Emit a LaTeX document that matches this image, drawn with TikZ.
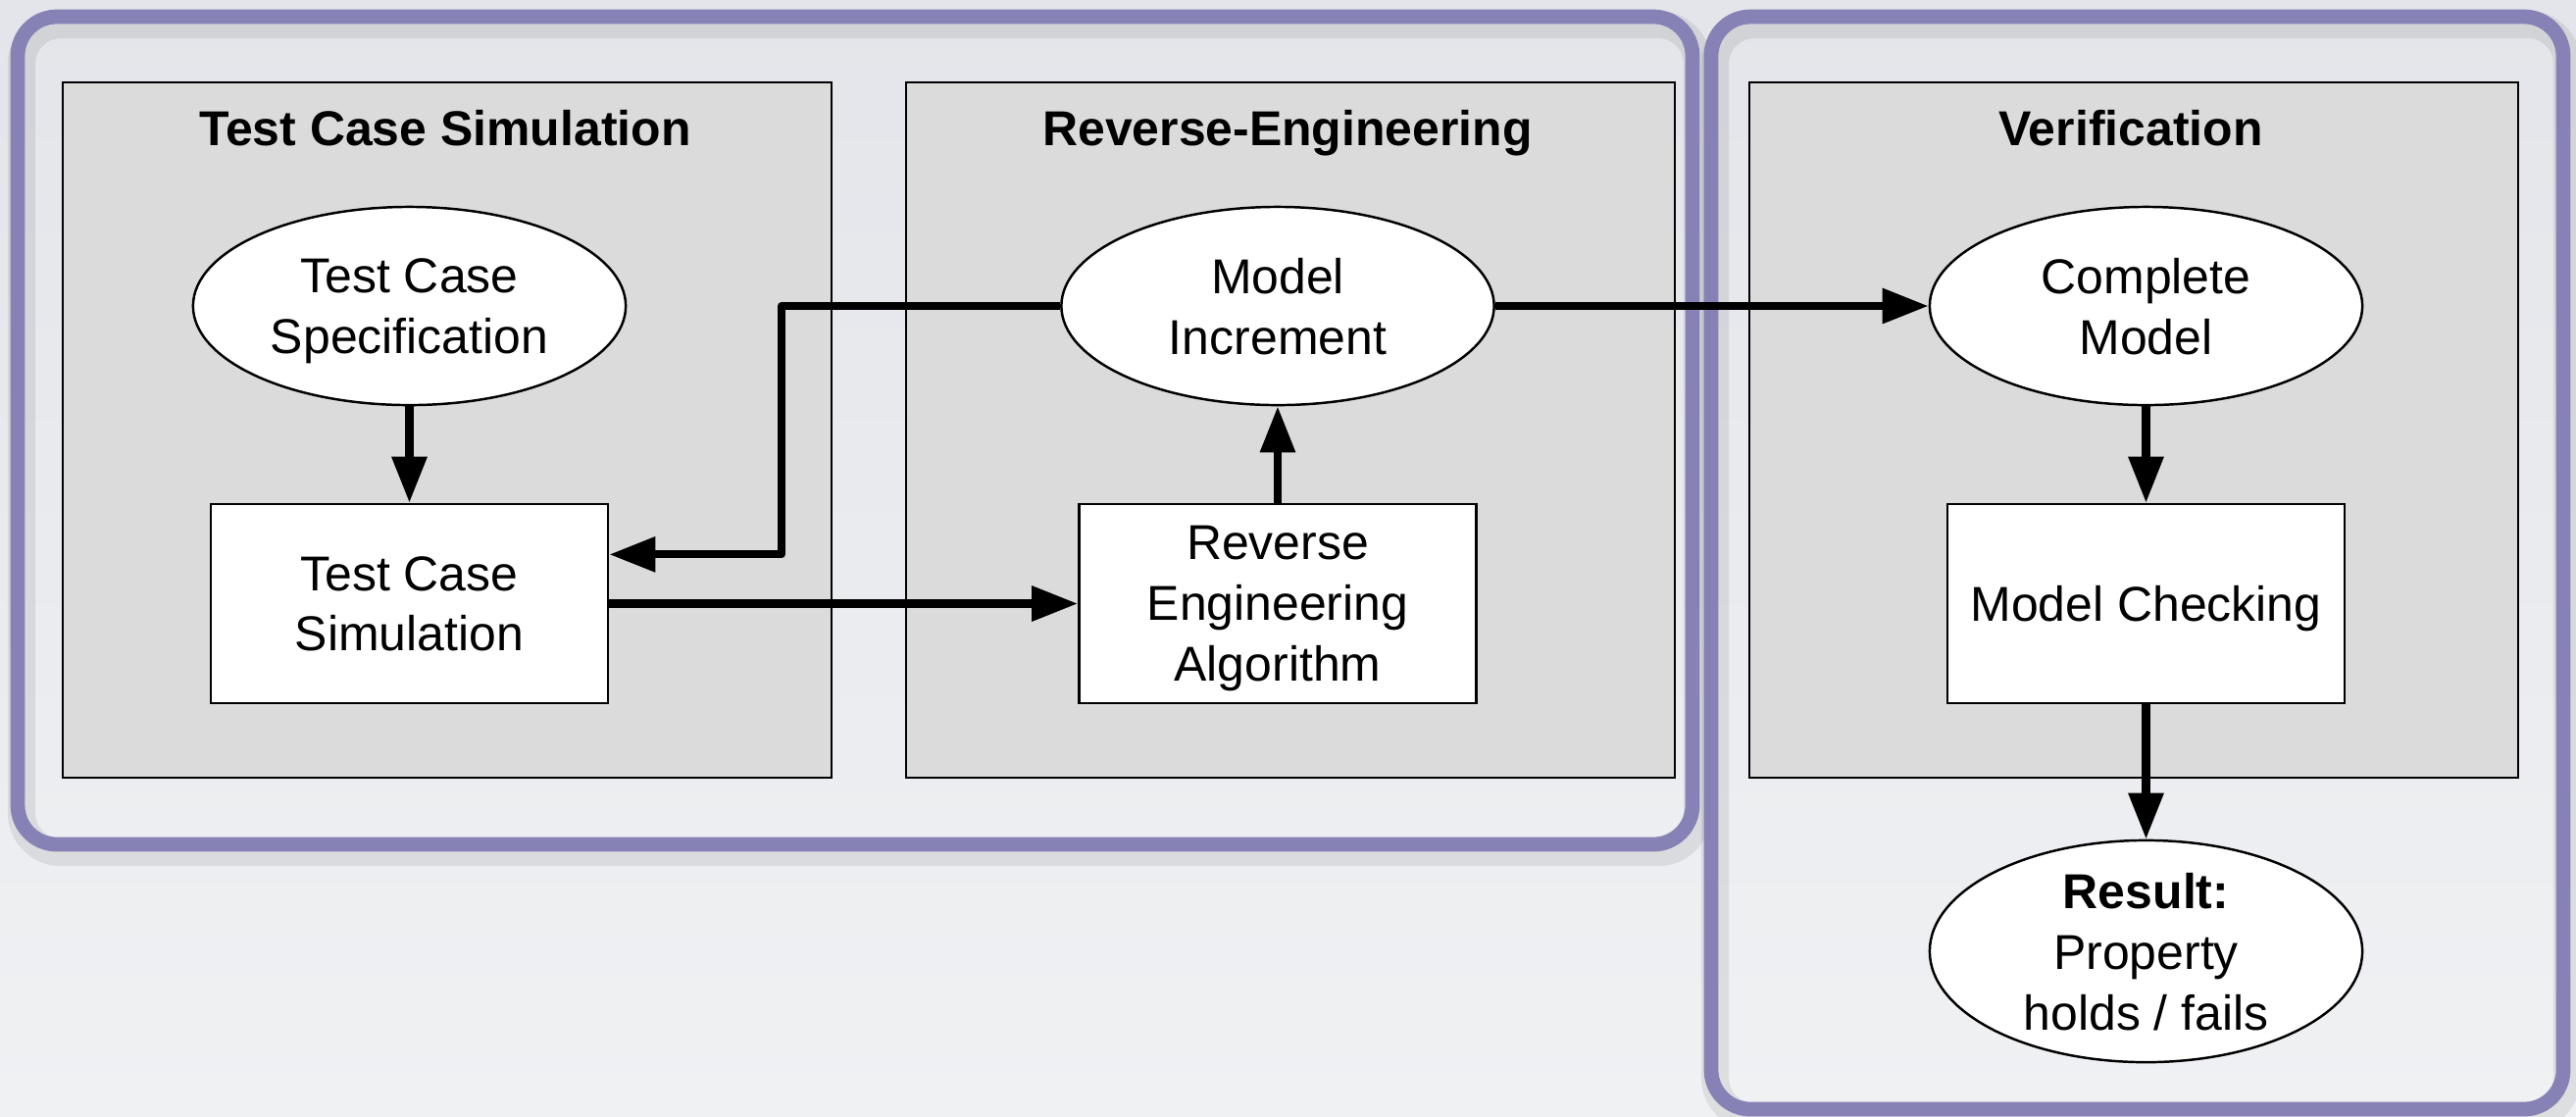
\documentclass[tikz,border=0pt]{standalone}
\usepackage{fontspec}
\setmainfont{Liberation Sans}
\usetikzlibrary{shapes.geometric,arrows.meta,calc}

\definecolor{framepurple}{RGB}{134,130,181}
\definecolor{panelgray}{RGB}{219,219,219}
\definecolor{bgtop}{RGB}{227,229,234}
\definecolor{bgbottom}{RGB}{240,241,243}

\begin{document}
\begin{tikzpicture}[x=0.01cm,y=-0.01cm,
  font=\fontsize{14.2}{17.6}\selectfont,
  frame/.style={draw=framepurple, line width=4.2pt, rounded corners=0.4cm},
  frameshadow/.style={draw=black, opacity=0.08, line width=8pt, rounded corners=0.4cm},
  panel/.style={rectangle, draw=black, line width=0.7pt, fill=panelgray,
    minimum width=7.84cm, minimum height=7.09cm, inner sep=0pt},
  title/.style={font=\fontsize{14.2}{17.6}\selectfont\bfseries, anchor=base, inner sep=0pt},
  oval/.style={ellipse, draw=black, line width=0.7pt, fill=white, text depth=0pt,
    minimum width=4.41cm, minimum height=2.02cm, inner sep=0pt, align=center},
  box/.style={rectangle, draw=black, line width=0.7pt, fill=white, text depth=0pt,
    minimum width=4.05cm, minimum height=2.03cm, inner sep=0pt, align=center},
  flow/.style={line width=2.3pt, line join=round, -{Triangle[length=13.4pt,width=9.8pt]}}
]
\useasboundingbox (0,0) rectangle (2627,1138);

% background
\fill[top color=bgtop, bottom color=bgbottom] (0,0) rectangle (2627,1138);

% soft shadows and rounded group frames
\draw[frameshadow] (22,25) rectangle (1731,869);
\draw[frameshadow] (1749,25) rectangle (2618,1139);
\draw[frame] (18,17) rectangle (1726,861);
\draw[frame] (1745,17) rectangle (2614,1131);

% stage panels
\node[panel] (p1) at (456,438.5) {};
\node[panel] (p2) at (1316,438.5) {};
\node[panel] (p3) at (2176,438.5) {};

\node[title] (t1) at (454,148) {Test Case Simulation};
\node[title] (t2) at (1313,148) {Reverse-Engineering};
\node[title] (t3) at (2173,148) {Verification};

% steps
\node[oval] (spec) at (417.5,312) {Test Case\\Specification};
\node[box]  (sim)  at (417.5,615.5) {Test Case\\Simulation};
\node[oval] (inc)  at (1303,312) {Model\\Increment};
\node[box]  (rea)  at (1303,615.5) {Reverse\\Engineering\\Algorithm};
\node[oval] (cm)   at (2188.5,312) {Complete\\Model};
\node[box]  (mc)   at (2188.5,615.5) {Model Checking};
\node[oval] (res)  at (2188.5,970) {\textbf{Result:}\\Property\\holds / fails};

% flow
\coordinate (bend) at (797,312);
\draw[flow] (spec) -- (sim);
\draw[flow] (sim) -- (rea);
\draw[flow] (rea) -- (inc);
\draw[flow] (inc.west) -- (bend) |- ($(sim.north east)!0.256!(sim.south east)$);
\draw[flow] (inc) -- (cm);
\draw[flow] (cm) -- (mc);
\draw[flow] (mc) -- (res);
\end{tikzpicture}
\end{document}
